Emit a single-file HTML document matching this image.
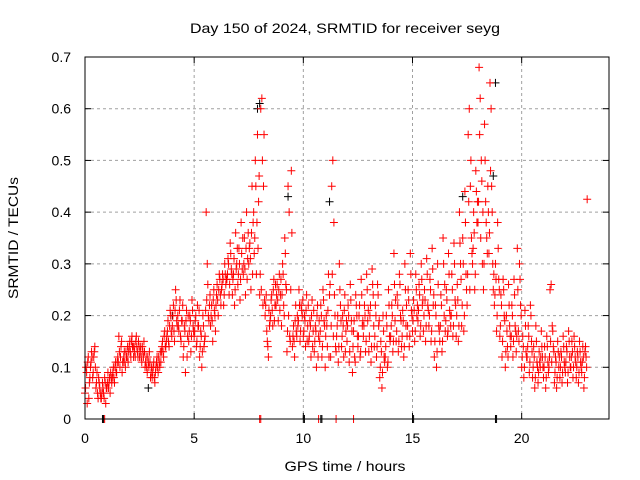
<!DOCTYPE html>
<html><head><meta charset="utf-8"><style>
body{margin:0;background:#fff}
svg{display:block;font-family:"Liberation Sans",sans-serif}
</style></head><body>
<svg id="chart" width="640" height="480" viewBox="0 0 640 480">
<rect width="640" height="480" fill="#fff"/>
<text x="345" y="33" font-size="14" textLength="310" lengthAdjust="spacingAndGlyphs" text-anchor="middle">Day 150 of 2024, SRMTID for receiver seyg</text>
<text x="345" y="471" font-size="14" textLength="121" lengthAdjust="spacingAndGlyphs" text-anchor="middle">GPS time / hours</text>
<text transform="translate(18,238) rotate(-90)" font-size="14" textLength="122" lengthAdjust="spacingAndGlyphs" text-anchor="middle">SRMTID / TECUs</text>
<g id="grid"></g>
<g id="ticks"></g>
<g id="black"></g>
<g id="red"></g>
<rect x="85" y="57" width="524" height="362" fill="none" stroke="#000" stroke-width="1"/>
</svg>
<script>
const xTicks=[0,5,10,15,20];
const yTicks=[0,0.1,0.2,0.3,0.4,0.5,0.6,0.7];
const yTickLabels=["0","0.1","0.2","0.3","0.4","0.5","0.6","0.7"];
const slotHours=0.25;
const redVals=[
[0.05,0.10,0.03,0.12,0.07],[0.10,0.13,0.08,0.12,0.14],[0.06,0.09,0.04,0.07,0.05],[0.04,0.07,0.05,0.08,0.03],
[0.06,0.09,0.07,0.05,0.08],[0.08,0.10,0.07,0.11,0.09],[0.12,0.16,0.10,0.14,0.09],[0.11,0.13,0.10,0.12,0.14],
[0.13,0.15,0.12,0.16,0.14],[0.14,0.12,0.16,0.13,0.15],[0.12,0.14,0.11,0.13,0.15],[0.10,0.12,0.09,0.11,0.13],
[0.08,0.10,0.09,0.11,0.07],[0.10,0.12,0.09,0.11,0.13],[0.13,0.15,0.12,0.17,0.14],[0.16,0.19,0.14,0.21,0.17],
[0.18,0.22,0.15,0.25,0.19],[0.20,0.17,0.23,0.15,0.19],[0.12,0.18,0.09,0.21,0.16],[0.15,0.20,0.13,0.23,0.18],
[0.16,0.19,0.14,0.22,0.18],[0.12,0.17,0.10,0.20,0.14],[0.16,0.40,0.30,0.20,0.22],[0.18,0.22,0.15,0.25,0.20],
[0.22,0.26,0.20,0.28,0.24],[0.25,0.28,0.22,0.30,0.26],[0.27,0.31,0.24,0.34,0.29],[0.24,0.28,0.22,0.36,0.30],
[0.26,0.33,0.23,0.38,0.29],[0.28,0.35,0.24,0.40,0.31],[0.30,0.34,0.25,0.45,0.38],[0.32,0.50,0.28,0.55,0.42],
[0.24,0.60,0.62,0.22,0.55],[0.20,0.24,0.15,0.12,0.18],[0.20,0.24,0.18,0.27,0.22],[0.22,0.26,0.19,0.28,0.24],
[0.18,0.30,0.22,0.35,0.26],[0.13,0.45,0.40,0.15,0.48],[0.14,0.18,0.12,0.22,0.16],[0.18,0.25,0.15,0.22,0.20],
[0.16,0.20,0.14,0.24,0.18],[0.15,0.19,0.12,0.23,0.17],[0.13,0.18,0.10,0.22,0.16],[0.15,0.22,0.12,0.25,0.19],
[0.10,0.20,0.14,0.28,0.24],[0.12,0.45,0.50,0.38,0.20],[0.13,0.18,0.11,0.30,0.22],[0.14,0.20,0.12,0.24,0.17],
[0.15,0.22,0.11,0.26,0.19],[0.09,0.17,0.12,0.24,0.20],[0.14,0.20,0.12,0.27,0.18],[0.16,0.22,0.13,0.28,0.19],
[0.13,0.20,0.11,0.29,0.24],[0.14,0.22,0.12,0.26,0.18],[0.08,0.15,0.06,0.20,0.12],[0.12,0.20,0.10,0.25,0.16],
[0.16,0.22,0.13,0.32,0.19],[0.15,0.24,0.13,0.28,0.20],[0.14,0.21,0.12,0.30,0.18],[0.16,0.25,0.14,0.32,0.21],
[0.17,0.23,0.15,0.28,0.20],[0.19,0.26,0.16,0.30,0.22],[0.17,0.25,0.15,0.31,0.22],[0.18,0.27,0.15,0.33,0.22],
[0.12,0.22,0.10,0.30,0.18],[0.15,0.24,0.13,0.35,0.20],[0.17,0.25,0.16,0.32,0.21],[0.18,0.28,0.16,0.34,0.23],
[0.16,0.26,0.15,0.40,0.30],[0.18,0.35,0.17,0.44,0.28],[0.22,0.55,0.60,0.45,0.35],[0.30,0.40,0.25,0.48,0.38],
[0.38,0.68,0.62,0.50,0.30],[0.25,0.57,0.42,0.35,0.45],[0.32,0.65,0.60,0.40,0.25],[0.22,0.30,0.17,0.38,0.27],
[0.16,0.24,0.12,0.27,0.20],[0.10,0.20,0.14,0.26,0.18],[0.14,0.22,0.12,0.27,0.18],[0.13,0.33,0.17,0.30,0.22],
[0.10,0.16,0.08,0.21,0.13],[0.12,0.18,0.09,0.22,0.15],[0.08,0.14,0.06,0.18,0.11],[0.07,0.13,0.10,0.17,0.12],
[0.08,0.14,0.06,0.16,0.11],[0.10,0.25,0.26,0.18,0.14],[0.07,0.12,0.06,0.15,0.10],[0.08,0.13,0.07,0.16,0.11],
[0.09,0.14,0.07,0.17,0.12],[0.10,0.15,0.08,0.16,0.12],[0.08,0.13,0.07,0.15,0.11],[0.09,0.14,0.06,0.13,0.12]];
const redFill=[
[0.06,0.09,0.11,0.04,0.08],[0.11,0.12,0.09,0.13,0.10],[0.07,0.05,0.08,0.06,0.04],[0.05,0.06,0.04,0.07,0.06],
[0.07,0.06,0.08,0.09,0.07],[0.09,0.08,0.10,0.09,0.11],[0.11,0.13,0.12,0.15,0.11],[0.12,0.11,0.13,0.12,0.11],
[0.14,0.13,0.15,0.14,0.12],[0.13,0.15,0.14,0.12,0.14],[0.13,0.12,0.14,0.12,0.13],[0.11,0.10,0.12,0.10,0.11],
[0.09,0.08,0.10,0.08,0.09],[0.11,0.10,0.12,0.10,0.11],[0.14,0.13,0.16,0.14,0.15],[0.17,0.15,0.18,0.20,0.16],
[0.20,0.17,0.21,0.23,0.18],[0.18,0.21,0.16,0.19,0.22],[0.14,0.17,0.19,0.12,0.20],[0.17,0.19,0.16,0.21,0.17],
[0.17,0.20,0.15,0.18,0.21],[0.14,0.16,0.13,0.18,0.15],[0.21,0.23,0.26,0.19,0.24],[0.20,0.19,0.23,0.21,0.17],
[0.24,0.23,0.25,0.27,0.22],[0.26,0.27,0.24,0.28,0.27],[0.28,0.30,0.26,0.32,0.28],[0.27,0.31,0.25,0.29,0.33],
[0.28,0.30,0.27,0.32,0.35],[0.30,0.29,0.33,0.27,0.36],[0.33,0.31,0.36,0.28,0.40],[0.35,0.45,0.38,0.33,0.47],
[0.28,0.25,0.50,0.45,0.23],[0.22,0.17,0.14,0.21,0.19],[0.23,0.21,0.25,0.19,0.26],[0.24,0.23,0.25,0.21,0.27],
[0.24,0.28,0.20,0.32,0.25],[0.17,0.20,0.16,0.25,0.36],[0.16,0.15,0.19,0.17,0.20],[0.19,0.22,0.17,0.21,0.23],
[0.17,0.19,0.21,0.15,0.22],[0.16,0.18,0.20,0.14,0.21],[0.15,0.17,0.20,0.12,0.19],[0.17,0.20,0.14,0.23,0.18],
[0.16,0.18,0.21,0.12,0.26],[0.18,0.28,0.16,0.24,0.14],[0.16,0.20,0.14,0.25,0.19],[0.16,0.18,0.21,0.13,0.19],
[0.18,0.20,0.13,0.23,0.17],[0.14,0.19,0.11,0.22,0.16],[0.16,0.22,0.13,0.24,0.19],[0.18,0.20,0.15,0.25,0.21],
[0.16,0.22,0.14,0.26,0.18],[0.16,0.20,0.14,0.24,0.19],[0.10,0.13,0.09,0.17,0.11],[0.14,0.18,0.11,0.22,0.15],
[0.18,0.20,0.15,0.26,0.23],[0.17,0.22,0.15,0.26,0.19],[0.16,0.19,0.14,0.25,0.22],[0.18,0.23,0.16,0.28,0.20],
[0.19,0.21,0.17,0.25,0.22],[0.21,0.24,0.18,0.27,0.23],[0.20,0.23,0.18,0.28,0.21],[0.20,0.25,0.17,0.29,0.24],
[0.15,0.20,0.13,0.26,0.17],[0.18,0.22,0.15,0.30,0.26],[0.19,0.23,0.17,0.28,0.20],[0.20,0.25,0.18,0.30,0.22],
[0.20,0.23,0.18,0.34,0.27],[0.22,0.30,0.20,0.38,0.25],[0.28,0.42,0.25,0.50,0.32],[0.33,0.36,0.28,0.44,0.42],
[0.42,0.55,0.35,0.46,0.40],[0.30,0.50,0.38,0.32,0.40],[0.36,0.48,0.45,0.30,0.28],[0.24,0.27,0.20,0.33,0.25],
[0.18,0.22,0.15,0.25,0.19],[0.13,0.17,0.12,0.22,0.16],[0.16,0.20,0.15,0.24,0.17],[0.16,0.25,0.15,0.27,0.20],
[0.12,0.14,0.10,0.18,0.12],[0.14,0.16,0.11,0.20,0.13],[0.10,0.12,0.08,0.15,0.10],[0.09,0.11,0.12,0.14,0.10],
[0.10,0.12,0.08,0.14,0.09],[0.12,0.15,0.11,0.17,0.13],[0.09,0.11,0.08,0.13,0.12],[0.10,0.12,0.09,0.14,0.10],
[0.11,0.13,0.09,0.15,0.10],[0.12,0.13,0.10,0.14,0.11],[0.10,0.12,0.09,0.13,0.10],[0.11,0.12,0.08,0.14,0.10]];
const redExtraT=[23.0,0.9,8.0,8.05,11.5,12.3,10.7];
const redExtraV=[0.425,0,0,0,0,0,0];
const blackT=[8.0,18.8,11.2,9.3,2.9,7.9,18.7,0.8,0.85,10.0,10.05,10.8,10.85,15.0,15.05,18.8,18.85,4.0,17.3];
const blackV=[0.61,0.65,0.42,0.43,0.06,0.60,0.47,0,0,0,0,0,0,0,0,0,0,0.20,0.43];

const X0=85,X1=609,Y0=419,Y1=57,XMAX=24,YMAX=0.7;
function sx(h){return X0+(X1-X0)*h/XMAX;}
function sy(v){return Y0-(Y0-Y1)*v/YMAX;}
const NS="http://www.w3.org/2000/svg";
function mk(tag,attrs,parent){const e=document.createElementNS(NS,tag);for(const k in attrs)e.setAttribute(k,attrs[k]);parent.appendChild(e);return e;}
const grid=document.getElementById('grid'),ticks=document.getElementById('ticks');
xTicks.forEach(t=>{
  const x=sx(t);
  if(t>0){const g=mk('line',{x1:x,x2:x,y1:Y1,y2:Y0,stroke:'#a0a0a0','stroke-dasharray':'3,3'},grid);
  
  }
  mk('line',{x1:x,x2:x,y1:Y0,y2:Y0-6,stroke:'#000'},ticks);
  mk('line',{x1:x,x2:x,y1:Y1,y2:Y1+6,stroke:'#000'},ticks);
  const l=mk('text',{x:x,y:443,'font-size':14,'text-anchor':'middle'},ticks);
  l.textContent=t;
  
  
});
yTicks.forEach((t,i)=>{
  const y=sy(t);
  if(t>0&&t<0.7){const g=mk('line',{x1:X0,x2:X1,y1:y,y2:y,stroke:'#a0a0a0','stroke-dasharray':'3,3'},grid);
  
  }
  mk('line',{x1:X0,x2:X0+6,y1:y,y2:y,stroke:'#000'},ticks);
  mk('line',{x1:X1,x2:X1-6,y1:y,y2:y,stroke:'#000'},ticks);
  const l=mk('text',{x:71,y:y+5,'font-size':14,'text-anchor':'end'},ticks);
  l.textContent=yTickLabels[i];
  
  
});
function cross(g,h,v,col){
  const x=sx(h),y=sy(v);
  const p=mk('path',{d:`M${x-4} ${y}H${x+4}M${x} ${y-4}V${y+4}`,stroke:col,'stroke-width':1,fill:'none'},g);
  
  
}
const bg=document.getElementById('black'),rg=document.getElementById('red');
blackT.forEach((t,i)=>cross(bg,t,blackV[i],'#000'));
redVals.forEach((arr,i)=>arr.forEach((v,k)=>cross(rg,i*slotHours+k*slotHours/arr.length,v,'#f00')));
redFill.forEach((arr,i)=>arr.forEach((v,k)=>cross(rg,i*slotHours+(k+0.5)*slotHours/arr.length,v,'#f00')));
redExtraT.forEach((t,i)=>cross(rg,t,redExtraV[i],'#f00'));
</script>
</body></html>
